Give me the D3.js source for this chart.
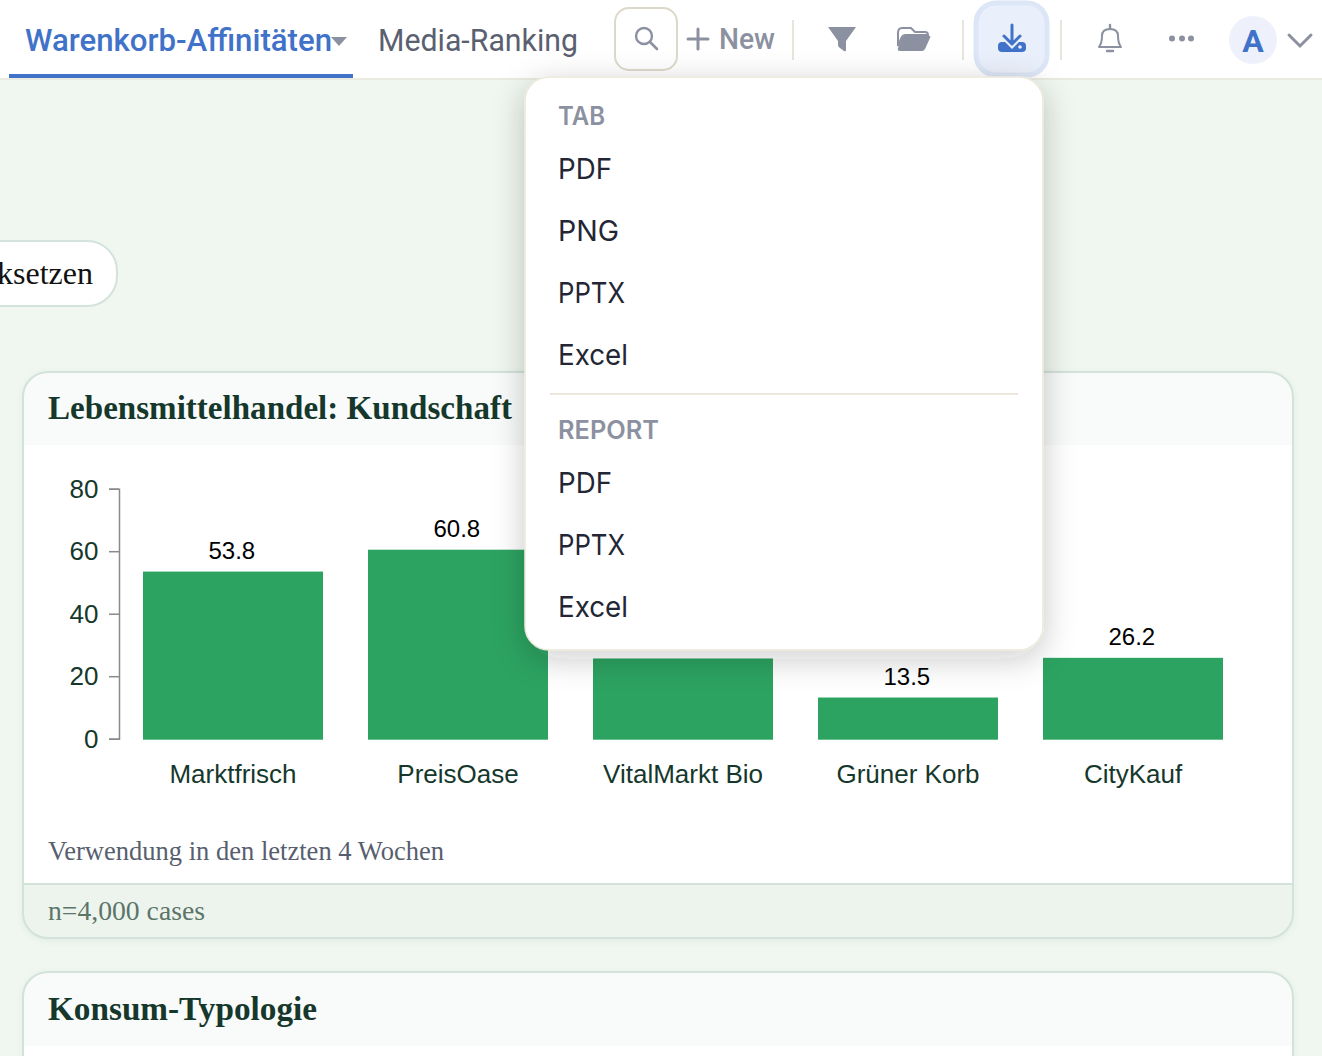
<!DOCTYPE html>
<html>
<head>
<meta charset="utf-8">
<script src="https://cdn.jsdelivr.net/npm/d3@7"></script>
<style>
  html, body { margin: 0; padding: 0; background: #eff7f0; overflow: hidden; }
  svg { display: block; }
  .serif { font-family: "Liberation Serif", serif; }
  .sans { font-family: "Liberation Sans", Arial, sans-serif; }
  .ui { font-family: Inter, sans-serif; }
  .nav { font-family: Roboto, sans-serif; }
</style>
</head>
<body>
<div id="chart"></div>
<script>
// chart values (VitalMarkt label sits behind the menu)
const categories = ["Marktfrisch", "PreisOase", "VitalMarkt Bio", "Grüner Korb", "CityKauf"];
const usage = [53.8, 60.8, 26.0, 13.5, 26.2];
const yTicks = [0, 20, 40, 60, 80];

const tabMenu = ["PDF", "PNG", "PPTX", "Excel"];
const reportMenu = ["PDF", "PPTX", "Excel"];

const blue = "#3f72c8";
const grey = "#8b91a0";

const svg = d3.select("#chart").append("svg")
  .attr("width", 1322)
  .attr("height", 1056);

const defs = svg.append("defs");

const shadow = defs.append("filter").attr("id", "menuShadow")
  .attr("x", "-15%").attr("y", "-15%").attr("width", "130%").attr("height", "130%");
shadow.append("feDropShadow")
  .attr("dx", 0).attr("dy", 8).attr("stdDeviation", 16)
  .attr("flood-color", "#1c2a24").attr("flood-opacity", 0.22);

const cardShadow = defs.append("filter").attr("id", "cardShadow")
  .attr("x", "-3%").attr("y", "-3%").attr("width", "106%").attr("height", "106%");
cardShadow.append("feDropShadow")
  .attr("dx", 0).attr("dy", 2).attr("stdDeviation", 3)
  .attr("flood-color", "#50705f").attr("flood-opacity", 0.1);

defs.append("clipPath").attr("id", "card1").append("rect")
  .attr("x", 23).attr("y", 372).attr("width", 1270).attr("height", 566).attr("rx", 25);
defs.append("clipPath").attr("id", "card2").append("rect")
  .attr("x", 23).attr("y", 972).attr("width", 1270).attr("height", 200).attr("rx", 25);

// page
svg.append("rect").attr("width", 1322).attr("height", 1056).attr("fill", "#eff7f0");

// reset pill, runs off the left edge
svg.append("rect")
  .attr("x", -60).attr("y", 241).attr("width", 177).attr("height", 65).attr("rx", 30)
  .attr("fill", "#fff").attr("stroke", "#d3e2da").attr("stroke-width", 2);
svg.append("text").attr("class", "serif")
  .attr("x", 93).attr("y", 284).attr("text-anchor", "end")
  .attr("font-size", 32).attr("fill", "#111")
  .text("Zurücksetzen");

// first card
svg.append("rect")
  .attr("x", 23).attr("y", 372).attr("width", 1270).attr("height", 566).attr("rx", 25)
  .attr("fill", "#fff").attr("filter", "url(#cardShadow)");
const card = svg.append("g").attr("clip-path", "url(#card1)");
card.append("rect").attr("x", 23).attr("y", 372).attr("width", 1270).attr("height", 73).attr("fill", "#f8fbf9");
card.append("rect").attr("x", 23).attr("y", 884).attr("width", 1270).attr("height", 54).attr("fill", "#edf4ee");
card.append("line").attr("x1", 23).attr("x2", 1293).attr("y1", 884).attr("y2", 884)
  .attr("stroke", "#d3e2da").attr("stroke-width", 2);
svg.append("rect")
  .attr("x", 23).attr("y", 372).attr("width", 1270).attr("height", 566).attr("rx", 25)
  .attr("fill", "none").attr("stroke", "#d3e2da").attr("stroke-width", 2);

svg.append("text").attr("class", "serif")
  .attr("x", 48).attr("y", 419)
  .attr("font-size", 33).attr("font-weight", 700).attr("fill", "#16382c")
  .attr("textLength", 464).attr("lengthAdjust", "spacingAndGlyphs")
  .text("Lebensmittelhandel: Kundschaft");

svg.append("text").attr("class", "serif")
  .attr("x", 48).attr("y", 860)
  .attr("font-size", 27).attr("fill", "#575e6e")
  .attr("textLength", 396).attr("lengthAdjust", "spacingAndGlyphs")
  .text("Verwendung in den letzten 4 Wochen");

svg.append("text").attr("class", "serif")
  .attr("x", 48).attr("y", 920)
  .attr("font-size", 27).attr("fill", "#5b7568")
  .attr("textLength", 157).attr("lengthAdjust", "spacingAndGlyphs")
  .text("n=4,000 cases");

// bars
const x = d3.scaleBand()
  .domain(categories)
  .range([120.5, 1245.5])
  .paddingInner(0.2)
  .paddingOuter(0.1);

const y = d3.scaleLinear()
  .domain([0, 80])
  .range([739.7, 489.7]);

const chart = svg.append("g");

chart.selectAll("rect.bar")
  .data(categories)
  .enter()
  .append("rect")
  .attr("class", "bar")
  .attr("x", d => x(d))
  .attr("width", x.bandwidth())
  .attr("y", (d, i) => y(usage[i]))
  .attr("height", (d, i) => y(0) - y(usage[i]))
  .attr("fill", "#2ca361");

chart.selectAll("text.value")
  .data(categories)
  .enter()
  .append("text")
  .attr("class", "value sans")
  .attr("x", d => x(d) + x.bandwidth() / 2 - 1.2)
  .attr("y", (d, i) => y(usage[i]) - 13)
  .attr("text-anchor", "middle")
  .attr("font-size", 24)
  .attr("fill", "#000")
  .text((d, i) => usage[i].toFixed(1));

const yAxis = chart.append("g")
  .attr("transform", "translate(119,-1)")
  .call(d3.axisLeft(y).tickValues(yTicks).tickSize(10).tickPadding(10.5));
yAxis.select(".domain").attr("stroke", "#8a8a8a").attr("stroke-width", 1.5);
yAxis.selectAll(".tick line").attr("stroke", "#8a8a8a").attr("stroke-width", 1.5);
yAxis.selectAll(".tick text")
  .attr("font-size", 26)
  .attr("font-family", "'Liberation Sans', Arial, sans-serif")
  .attr("fill", "#16382c");

const xAxis = chart.append("g")
  .attr("transform", "translate(0,739.7)")
  .call(d3.axisBottom(x).tickSize(0).tickPadding(25));
xAxis.select(".domain").remove();
xAxis.selectAll(".tick text")
  .attr("font-size", 26)
  .attr("font-family", "'Liberation Sans', Arial, sans-serif")
  .attr("fill", "#16382c");

// second card, cut off by the window
svg.append("rect")
  .attr("x", 23).attr("y", 972).attr("width", 1270).attr("height", 200).attr("rx", 25)
  .attr("fill", "#fff").attr("filter", "url(#cardShadow)");
const card2 = svg.append("g").attr("clip-path", "url(#card2)");
card2.append("rect").attr("x", 23).attr("y", 972).attr("width", 1270).attr("height", 74).attr("fill", "#f8fbf9");
svg.append("rect")
  .attr("x", 23).attr("y", 972).attr("width", 1270).attr("height", 200).attr("rx", 25)
  .attr("fill", "none").attr("stroke", "#d3e2da").attr("stroke-width", 2);
svg.append("text").attr("class", "serif")
  .attr("x", 48).attr("y", 1020)
  .attr("font-size", 33).attr("font-weight", 700).attr("fill", "#16382c")
  .attr("textLength", 269).attr("lengthAdjust", "spacingAndGlyphs")
  .text("Konsum-Typologie");

// top bar
svg.append("rect").attr("width", 1322).attr("height", 78).attr("fill", "#fff");
svg.append("line").attr("x1", 0).attr("x2", 1322).attr("y1", 79).attr("y2", 79)
  .attr("stroke", "#e9eae0").attr("stroke-width", 2);
svg.append("rect").attr("x", 9).attr("y", 74).attr("width", 344).attr("height", 4).attr("fill", blue);

svg.append("text").attr("class", "nav")
  .attr("x", 25).attr("y", 51)
  .attr("font-size", 31).attr("font-weight", 500).attr("fill", blue)
  .attr("textLength", 307).attr("lengthAdjust", "spacingAndGlyphs")
  .text("Warenkorb-Affinitäten");
svg.append("path").attr("d", "M331,37 L347,37 L339,46 Z").attr("fill", grey);
svg.append("text").attr("class", "nav")
  .attr("x", 378).attr("y", 51)
  .attr("font-size", 31).attr("fill", "#5a6070")
  .attr("textLength", 200).attr("lengthAdjust", "spacingAndGlyphs")
  .text("Media-Ranking");

// search button
svg.append("rect")
  .attr("x", 615).attr("y", 8).attr("width", 62).attr("height", 62).attr("rx", 14)
  .attr("fill", "#fff").attr("stroke", "#ddd9ca").attr("stroke-width", 2);
svg.append("circle").attr("cx", 644).attr("cy", 36).attr("r", 8)
  .attr("fill", "none").attr("stroke", grey).attr("stroke-width", 2.4);
svg.append("line").attr("x1", 650).attr("y1", 42).attr("x2", 657).attr("y2", 49)
  .attr("stroke", grey).attr("stroke-width", 2.6).attr("stroke-linecap", "round");

// new
svg.append("path").attr("d", "M698,29 V49 M688,39 H708")
  .attr("stroke", grey).attr("stroke-width", 3).attr("stroke-linecap", "round");
svg.append("text").attr("class", "nav")
  .attr("x", 719).attr("y", 49)
  .attr("font-size", 29).attr("font-weight", 500).attr("fill", grey)
  .attr("textLength", 56).attr("lengthAdjust", "spacingAndGlyphs")
  .text("New");

// separators
svg.selectAll("line.sep")
  .data([793, 963, 1061])
  .enter()
  .append("line")
  .attr("class", "sep")
  .attr("x1", d => d).attr("x2", d => d)
  .attr("y1", 20).attr("y2", 60)
  .attr("stroke", "#e6e6dc").attr("stroke-width", 2);

// filter
svg.append("path")
  .attr("d", "M828,27 H856 L846,41 V50 Q846,52 844,51 L840,48 Q838,47 838,45 V41 Z")
  .attr("fill", grey);

// folder
svg.append("path")
  .attr("d", "M898,33 Q898,28 902,28 H911 L915,32 H925 Q928,32 928,35 H906 Q902,35 901,39 L898,46 Z")
  .attr("fill", "none").attr("stroke", grey).attr("stroke-width", 2);
svg.append("path")
  .attr("d", "M904,36 H930 Q931,36 930,38 L925,49 Q924,51 922,51 H900 Q897,51 898,48 L902,38 Q903,36 904,36 Z")
  .attr("fill", grey);

// download button
svg.append("rect")
  .attr("x", 976).attr("y", 3).attr("width", 71).attr("height", 72).attr("rx", 20)
  .attr("fill", "#eaf0fb").attr("stroke", "#dce6f6").attr("stroke-width", 5);
svg.append("rect").attr("x", 998).attr("y", 42).attr("width", 28).attr("height", 10).attr("rx", 4).attr("fill", blue);
svg.append("path").attr("d", "M1004,36 L1012,44 L1020,36")
  .attr("fill", "none").attr("stroke", "#eaf0fb").attr("stroke-width", 7);
svg.append("path").attr("d", "M1012,25 V44 M1004,36 L1012,44 L1020,36")
  .attr("fill", "none").attr("stroke", blue).attr("stroke-width", 3)
  .attr("stroke-linecap", "round").attr("stroke-linejoin", "round");
svg.append("circle").attr("cx", 1020).attr("cy", 47).attr("r", 1.8).attr("fill", "#eaf0fb");

// bell
svg.append("path")
  .attr("d", "M1099,47 Q1102,43 1102,36 Q1102,29 1110,29 Q1118,29 1118,36 Q1118,43 1121,47 Z")
  .attr("fill", "none").attr("stroke", grey).attr("stroke-width", 2).attr("stroke-linejoin", "round");
svg.append("path").attr("d", "M1110,25 V29 M1107,51 H1113")
  .attr("stroke", grey).attr("stroke-width", 2.4).attr("stroke-linecap", "round");

// more
svg.selectAll("circle.dot")
  .data([1172, 1182, 1191])
  .enter()
  .append("circle")
  .attr("class", "dot")
  .attr("cx", d => d).attr("cy", 38.5).attr("r", 3)
  .attr("fill", grey);

// avatar
svg.append("circle").attr("cx", 1253).attr("cy", 40).attr("r", 24).attr("fill", "#eef1fb");
svg.append("text").attr("class", "nav")
  .attr("x", 1253).attr("y", 52).attr("text-anchor", "middle")
  .attr("font-size", 32).attr("font-weight", 700).attr("fill", blue)
  .text("A");
svg.append("path").attr("d", "M1289,35 L1300,46 L1311,35")
  .attr("fill", "none").attr("stroke", grey).attr("stroke-width", 3).attr("stroke-linecap", "round");

// download menu
svg.append("rect")
  .attr("x", 525).attr("y", 77).attr("width", 518).attr("height", 573).attr("rx", 24)
  .attr("fill", "#fff").attr("stroke", "#ece9da").attr("stroke-width", 1.5)
  .attr("filter", "url(#menuShadow)");

const menuLabel = (label, yPos, w) => svg.append("text").attr("class", "ui")
  .attr("x", 558).attr("y", yPos)
  .attr("font-size", 25).attr("font-weight", 600).attr("fill", grey)
  .attr("textLength", w).attr("lengthAdjust", "spacingAndGlyphs")
  .text(label);

// Inter here sets these a bit wider than the reference, so pin the widths
const rowWidth = { PDF: 54, PNG: 61, PPTX: 67, Excel: 70 };

const menuRows = (items, top) => svg.append("g")
  .selectAll("text")
  .data(items)
  .enter()
  .append("text")
  .attr("class", "ui")
  .attr("x", 558)
  .attr("y", (d, i) => top + i * 62)
  .attr("font-size", 29)
  .attr("fill", "#232634")
  .attr("textLength", d => rowWidth[d])
  .attr("lengthAdjust", "spacingAndGlyphs")
  .text(d => d);

menuLabel("TAB", 125, 47);
menuRows(tabMenu, 179);
svg.append("line").attr("x1", 550).attr("x2", 1018).attr("y1", 394).attr("y2", 394)
  .attr("stroke", "#ece9da").attr("stroke-width", 2);
menuLabel("REPORT", 439, 101);
menuRows(reportMenu, 493);
</script>
</body>
</html>
